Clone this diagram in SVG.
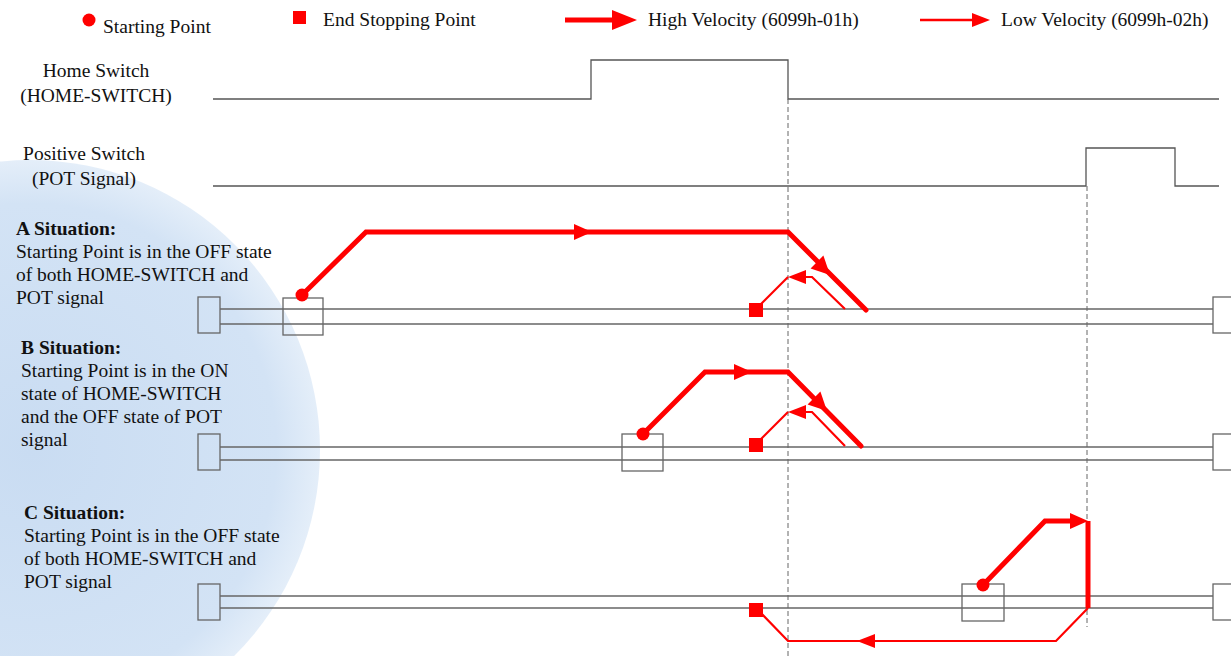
<svg xmlns="http://www.w3.org/2000/svg" width="1231" height="656" viewBox="0 0 1231 656">
<style>
text{font-family:"Liberation Serif","Times New Roman",serif;font-size:19.5px;fill:#111}
.b{font-weight:bold}
.sig{fill:none;stroke:#555;stroke-width:1.3}
.rail{fill:none;stroke:#666;stroke-width:1.3}
.box{fill:none;stroke:#666;stroke-width:1.3}
.dash{fill:none;stroke:#666;stroke-width:1;stroke-dasharray:5,3}
.hi{fill:none;stroke:#f00;stroke-width:5;stroke-linejoin:miter;stroke-linecap:round}
.lo{fill:none;stroke:#f00;stroke-width:2.2;stroke-linejoin:miter}
.ah{fill:#f00}
</style>
<defs>
<radialGradient id="wm" cx="0.5" cy="0.5" r="0.5">
<stop offset="0" stop-color="#c9dcf2"/>
<stop offset="0.85" stop-color="#d3e3f5"/>
<stop offset="1" stop-color="#e4eef9"/>
</radialGradient>
</defs>
<rect width="1231" height="656" fill="#fff"/>
<g id="watermark">
<circle cx="30" cy="450" r="290" fill="url(#wm)"/>
</g>
<g id="legend">
<circle cx="89" cy="20" r="6.5" fill="#f00"/>
<text x="103" y="33">Starting Point</text>
<rect x="293" y="11" width="13" height="13" fill="#f00"/>
<text x="323" y="26">End Stopping Point</text>
<line x1="565" y1="20" x2="615" y2="20" stroke="#f00" stroke-width="5"/>
<polygon class="ah" points="612,10 637,20 612,30"/>
<text x="648" y="26">High Velocity (6099h-01h)</text>
<line x1="920" y1="20" x2="975" y2="20" stroke="#f00" stroke-width="2.5"/>
<polygon class="ah" points="972,13 990,20 972,27"/>
<text x="1001" y="26">Low Velocity (6099h-02h)</text>
</g>
<g id="home-switch">
<text x="96" y="77" text-anchor="middle">Home Switch</text>
<text x="96" y="102" text-anchor="middle">(HOME-SWITCH)</text>
<polyline class="sig" points="213,99 591,99 591,60 788,60 788,99 1219,99"/>
</g>
<g id="pot-switch">
<text x="84" y="160" text-anchor="middle">Positive Switch</text>
<text x="84" y="185" text-anchor="middle">(POT Signal)</text>
<polyline class="sig" points="213,186 1086,186 1086,148 1175,148 1175,186 1219,186"/>
</g>
<g id="guides">
<line class="dash" x1="788" y1="99" x2="788" y2="656"/>
<line class="dash" x1="1087" y1="186" x2="1087" y2="627"/>
</g>
<g id="situation-a">
<text x="16" y="235" class="b">A Situation:</text>
<text x="16" y="258">Starting Point is in the OFF state</text>
<text x="16" y="281">of both HOME-SWITCH and</text>
<text x="16" y="304">POT signal</text>
<rect class="box" x="198" y="297" width="22" height="36"/>
<line class="rail" x1="220" y1="309" x2="1213" y2="309"/>
<line class="rail" x1="220" y1="324" x2="1213" y2="324"/>
<rect class="box" x="1213" y="297" width="22" height="36"/>
<rect class="box" x="283" y="298" width="40" height="37"/>
</g>
<g id="situation-b">
<text x="21" y="354" class="b">B Situation:</text>
<text x="21" y="377">Starting Point is in the ON</text>
<text x="21" y="400">state of HOME-SWITCH</text>
<text x="21" y="423">and the OFF state of POT</text>
<text x="21" y="446">signal</text>
<rect class="box" x="198" y="434" width="22" height="36"/>
<line class="rail" x1="220" y1="447" x2="1213" y2="447"/>
<line class="rail" x1="220" y1="460" x2="1213" y2="460"/>
<rect class="box" x="1213" y="434" width="22" height="36"/>
<rect class="box" x="622" y="434" width="41" height="37"/>
</g>
<g id="situation-c">
<text x="24" y="519" class="b">C Situation:</text>
<text x="24" y="542">Starting Point is in the OFF state</text>
<text x="24" y="565">of both HOME-SWITCH and</text>
<text x="24" y="588">POT signal</text>
<rect class="box" x="198" y="584" width="22" height="36"/>
<line class="rail" x1="220" y1="596" x2="1213" y2="596"/>
<line class="rail" x1="220" y1="608" x2="1213" y2="608"/>
<rect class="box" x="1213" y="584" width="22" height="36"/>
<rect class="box" x="962" y="584" width="42" height="37"/>
</g>
<g id="connectors">
<!-- A -->
<polyline class="hi" points="302,295 366,232 788,232 866,310"/>
<polygon class="ah" points="574,224 592,232 574,240"/>
<polygon class="ah" points="810.6,268.4 830,275 823.4,255.6"/>
<polyline class="lo" points="845,309 812,277 796,277"/>
<polygon class="ah" points="806,270 788,277 806,284"/>
<polyline class="lo" points="788,277 760,305"/>
<circle cx="302" cy="295" r="6.5" fill="#f00"/>
<rect x="749" y="303" width="14" height="14" fill="#f00"/>
<!-- B -->
<polyline class="hi" points="643,434 705,372 788,372 861,446"/>
<polygon class="ah" points="734,364 752,372 734,380"/>
<polygon class="ah" points="807.6,404.4 827,411 820.4,391.6"/>
<polyline class="lo" points="845,446 812,412 796,412"/>
<polygon class="ah" points="806,405 788,412 806,419"/>
<polyline class="lo" points="788,412 760,440"/>
<circle cx="643" cy="434" r="6.5" fill="#f00"/>
<rect x="749" y="438" width="14" height="14" fill="#f00"/>
<!-- C -->
<polyline class="hi" points="983,585 1045,521 1075,521"/>
<polygon class="ah" points="1070,513 1088,521 1070,529"/>
<line x1="1088" y1="521" x2="1088" y2="608" stroke="#f00" stroke-width="5"/>
<polyline class="lo" points="1088,608 1056,641 788,641 760,612"/>
<polygon class="ah" points="857,641 875,634 875,648"/>
<circle cx="983" cy="585" r="6.5" fill="#f00"/>
<rect x="749" y="603" width="14" height="14" fill="#f00"/>
</g>
</svg>
